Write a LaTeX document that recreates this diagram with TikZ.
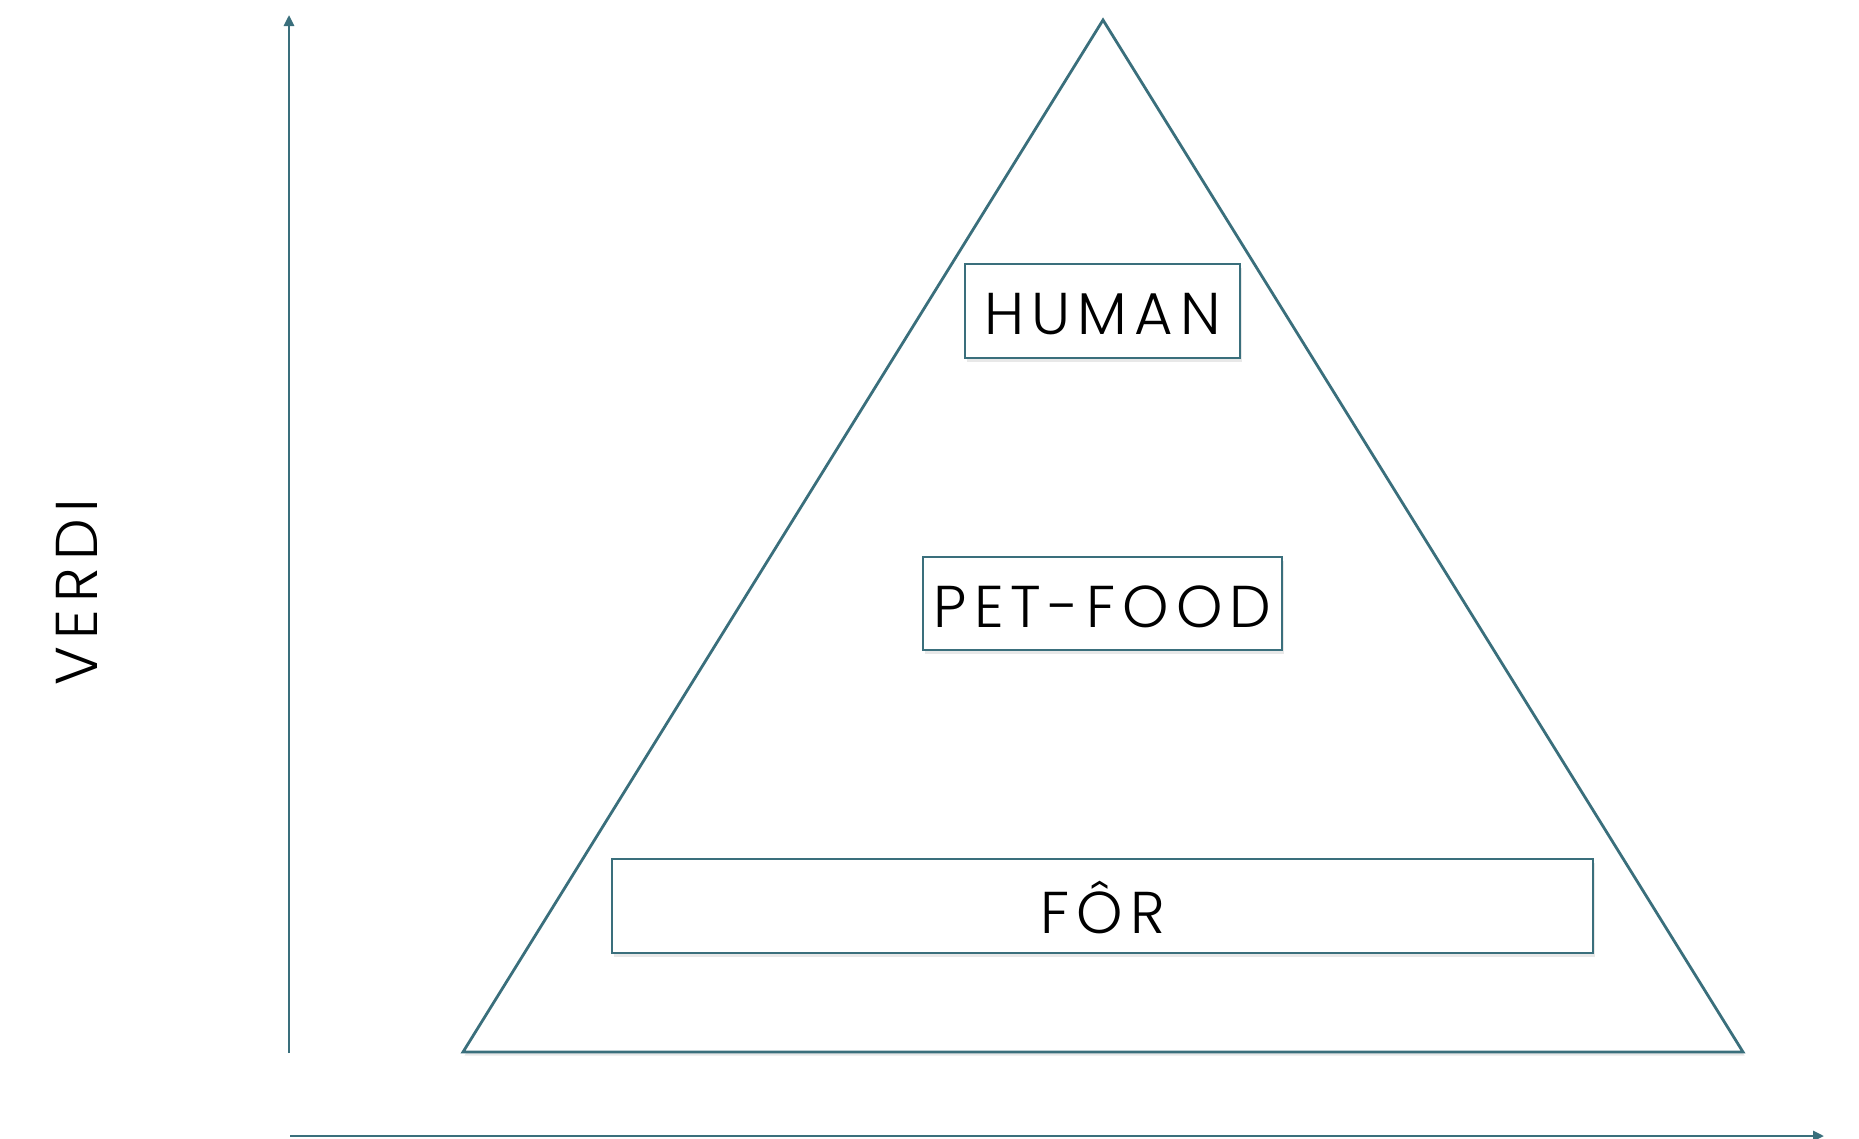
\documentclass[tikz,border=0pt]{standalone}
\usepackage{fontspec}
\setmainfont{Poppins Light}[LetterSpace=12]
\usetikzlibrary{arrows.meta,shadows}
\definecolor{teal}{HTML}{3A6F7C}
\tikzset{
  axisline/.style={draw=teal, line width=2.6pt, -{Triangle[length=11pt,width=10pt]}},
  levelbox/.style={draw=teal, line width=2.8pt, fill=white, inner sep=0pt,
    drop shadow={opacity=0.18, shadow xshift=1.5pt, shadow yshift=-3.5pt}},
  leveltext/.style={font=\fontsize{59}{62}\selectfont, text=black},
}
\begin{document}
\begin{tikzpicture}[x=1pt,y=-1pt]
\useasboundingbox (0,0) rectangle (1859,1138);
% axes
\coordinate (vstart) at (289,1053);
\coordinate (vend) at (289,15);
\coordinate (hstart) at (290,1136);
\coordinate (hend) at (1824,1136);
\draw[axisline] (vstart) -- (vend);
\draw[axisline] (hstart) -- (hend);
% triangle
\coordinate (apex) at (1103,20);
\coordinate (bl) at (463,1052);
\coordinate (br) at (1743,1052);
\path[draw=teal, line width=2.8pt, fill=white, line join=miter,
  drop shadow={opacity=0.18, shadow xshift=1.5pt, shadow yshift=-3.5pt}]
  (apex) -- (br) -- (bl) -- cycle;
% boxes
\node[levelbox, minimum width=275pt, minimum height=94pt] (human) at (1102.5,311) {};
\node[leveltext, yshift=-3pt] (humant) at (human.center) {HUMAN};
\node[levelbox, minimum width=359pt, minimum height=93pt] (pet) at (1102.5,603.5) {};
\node[leveltext, yshift=-3pt] (pett) at (pet.center) {PET-FOOD};
\node[levelbox, minimum width=981pt, minimum height=94pt] (for) at (1102.5,906) {};
\node[leveltext, yshift=-2pt] (fort) at (for.center) {FÔR};
% y label
\node[leveltext, rotate=90] (verdi) at (77,592) {VERDI};
\end{tikzpicture}
\end{document}
